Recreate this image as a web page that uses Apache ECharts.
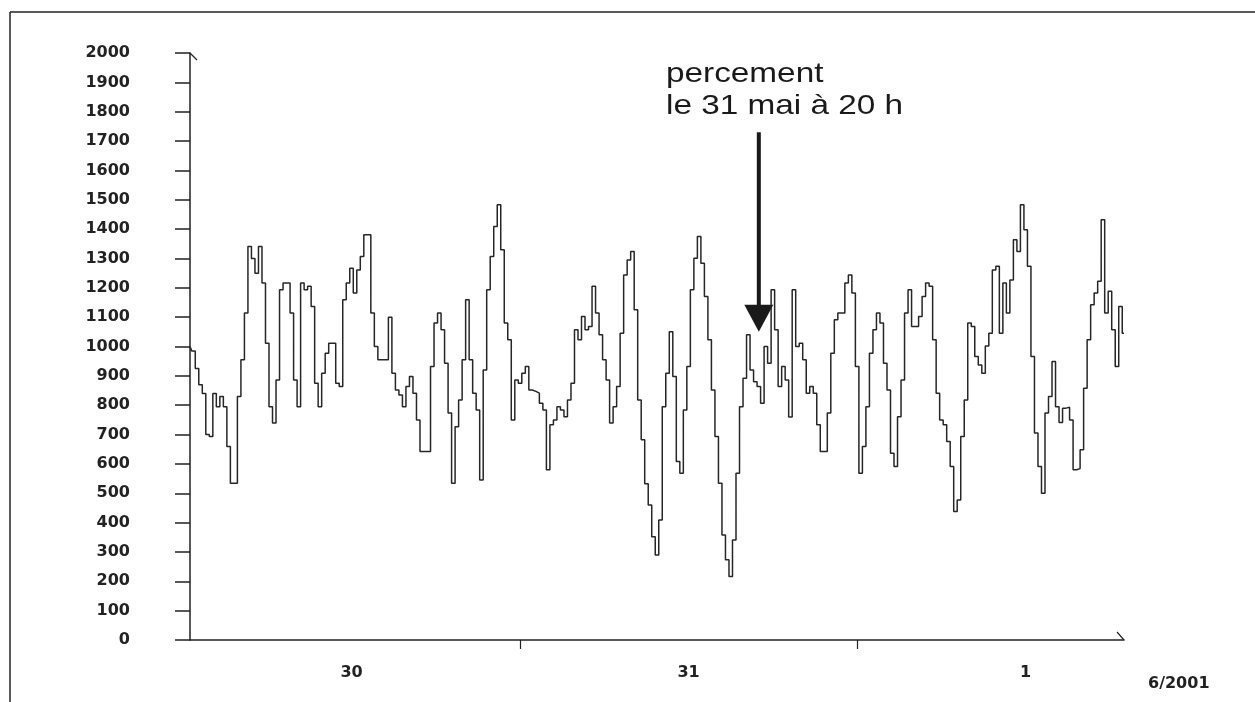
<!DOCTYPE html>
<html>
<head>
<meta charset="utf-8">
<script src="https://cdn.jsdelivr.net/npm/echarts@6/dist/echarts.min.js"></script>
<style>
html,body{margin:0;padding:0;background:#fff;}
#chart{width:1255px;height:702px;}
</style>
</head>
<body>
<div id="chart"></div>
<script>
// ---- data (15-minute readings, first reading 30 May 2001 00:30) ----
const startTime = Date.UTC(2001, 4, 30, 0, 30);
const stepMinutes = 15;
const debit = [
  1000, 985, 925, 870, 840, 700, 693, 840, 795, 830,
  795, 659, 534, 534, 830, 955, 1114, 1341, 1300, 1250,
  1341, 1216, 1011, 795, 739, 886, 1193, 1216, 1216, 1114,
  886, 795, 1216, 1193, 1205, 1136, 875, 795, 909, 977,
  1011, 1011, 875, 864, 1159, 1216, 1267, 1182, 1261, 1307,
  1381, 1381, 1114, 1000, 955, 955, 955, 1100, 909, 852,
  835, 795, 864, 898, 841, 750, 642, 642, 642, 932,
  1080, 1114, 1057, 943, 773, 534, 727, 818, 955, 1159,
  955, 841, 784, 545, 920, 1193, 1307, 1409, 1483, 1330,
  1080, 1023, 750, 886, 875, 909, 932, 852, 847, 841,
  807, 784, 580, 733, 750, 795, 784, 761, 818, 875,
  1057, 1023, 1102, 1057, 1068, 1205, 1114, 1040, 955, 886,
  739, 795, 864, 1045, 1244, 1295, 1324, 1125, 818, 682,
  532, 460, 352, 290, 409, 795, 909, 1050, 898, 608,
  568, 784, 932, 1193, 1301, 1375, 1284, 1170, 1023, 852,
  693, 534, 358, 273, 216, 341, 568, 795, 892, 1040,
  920, 880, 864, 807, 1000, 943, 1193, 1057, 864, 932,
  886, 760, 1193, 1000, 1011, 955, 841, 864, 841, 733,
  642, 642, 773, 977, 1091, 1114, 1114, 1216, 1244, 1182,
  932, 568, 659, 795, 977, 1057, 1114, 1080, 943, 852,
  636, 591, 761, 886, 1114, 1193, 1068, 1068, 1102, 1170,
  1216, 1205, 1023, 841, 750, 733, 676, 591, 438, 477,
  693, 818, 1080, 1068, 966, 937, 909, 1002, 1045, 1261,
  1273, 1045, 1216, 1114, 1227, 1364, 1324, 1483, 1398, 1273,
  966, 705, 591, 500, 773, 830, 949, 795, 741, 790,
  793, 750, 580, 584, 648, 858, 1023, 1142, 1182, 1222,
  1432, 1114, 1188, 1057, 932, 1136, 1045
];
const yTicks = { min: 0, max: 2000, interval: 100 };
const periodLabel = '6/2001';
const annotationText = 'percement\nle 31 mai à 20 h';
const annotationIndex = 162;          // reading the arrow points at
const annotationFrom = 1730;          // arrow tail value
const annotationTo = 1050;            // arrow tip value

// categories (timestamps)
function pad(n){ return (n < 10 ? '0' : '') + n; }
const categories = debit.map((_, i) => {
  const d = new Date(startTime + i * stepMinutes * 60000);
  return d.getUTCFullYear() + '-' + pad(d.getUTCMonth() + 1) + '-' + pad(d.getUTCDate()) +
    ' ' + pad(d.getUTCHours()) + ':' + pad(d.getUTCMinutes());
});
function hm(cat){ return cat.slice(11); }

const labelFont = 'DejaVu Sans';
const ink = '#222';

const chart = echarts.init(document.getElementById('chart'), null, { renderer: 'canvas' });
chart.setOption({
  animation: false,
  backgroundColor: '#fff',
  grid: { left: 190, right: 131, top: 53, bottom: 62, containLabel: false },
  xAxis: {
    type: 'category',
    data: categories,
    boundaryGap: false,
    axisLine: { lineStyle: { color: ink, width: 1.5 } },
    axisTick: {
      show: true, length: 9,
      lineStyle: { color: ink, width: 1.2 },
      interval: (idx, val) => hm(val) === '00:00'
    },
    axisLabel: {
      interval: (idx, val) => hm(val) === '12:00',
      formatter: (val) => String(parseInt(val.slice(8, 10), 10)),
      margin: 25,
      color: ink,
      fontFamily: labelFont,
      fontWeight: 'bold',
      fontSize: 16
    },
    splitLine: { show: false }
  },
  yAxis: {
    type: 'value',
    min: yTicks.min, max: yTicks.max, interval: yTicks.interval,
    axisLine: { show: true, lineStyle: { color: ink, width: 1.5 } },
    axisTick: { show: true, length: 15, lineStyle: { color: ink, width: 1.5 } },
    axisLabel: {
      margin: 60,
      formatter: (v) => String(v),
      color: ink,
      fontFamily: labelFont,
      fontWeight: 'bold',
      fontSize: 16
    },
    splitLine: { show: false }
  },
  series: [{
    type: 'line',
    data: debit,
    step: 'middle',
    showSymbol: false,
    lineStyle: { color: '#262626', width: 1.5 },
    z: 3
  }]
});

// annotation & decorations placed from axis coordinates
const tail = chart.convertToPixel({ gridIndex: 0 }, [annotationIndex, annotationFrom]);
const tip = chart.convertToPixel({ gridIndex: 0 }, [annotationIndex, annotationTo]);
const yTop = chart.convertToPixel({ gridIndex: 0 }, [0, yTicks.max]);
const xEnd = chart.convertToPixel({ gridIndex: 0 }, [debit.length - 1, yTicks.min]);
const headH = 27, headW = 29;

chart.setOption({
  graphic: [
    // frame
    { type: 'line', shape: { x1: 10, y1: 12, x2: 1255, y2: 12 }, style: { stroke: ink, lineWidth: 1.5 } },
    { type: 'line', shape: { x1: 10, y1: 12, x2: 10, y2: 702 }, style: { stroke: ink, lineWidth: 1.5 } },
    // axis end marks
    { type: 'line', shape: { x1: yTop[0], y1: yTop[1], x2: yTop[0] + 7, y2: yTop[1] + 7 }, style: { stroke: ink, lineWidth: 1.2 } },
    { type: 'line', shape: { x1: xEnd[0] - 7, y1: xEnd[1] - 8, x2: xEnd[0], y2: xEnd[1] }, style: { stroke: ink, lineWidth: 1.2 } },
    // arrow
    { type: 'line', shape: { x1: tail[0], y1: tail[1], x2: tip[0], y2: tip[1] - headH + 2 }, style: { stroke: '#1a1a1a', lineWidth: 4 } },
    { type: 'polygon', shape: { points: [[tip[0] - headW / 2, tip[1] - headH], [tip[0] + headW / 2, tip[1] - headH], [tip[0], tip[1]]] }, style: { fill: '#1a1a1a' } },
    // annotation text
    { type: 'text', x: 666, y: 58, scaleX: 1.19, style: {
        text: annotationText, x: 0, y: 0, fill: '#1a1a1a',
        font: '28px "Liberation Sans", Arial, sans-serif', lineHeight: 32, align: 'left', verticalAlign: 'top' } },
    // period label
    { type: 'text', x: 1148, y: 676, style: {
        text: periodLabel, x: 0, y: 0, fill: ink,
        font: 'bold 16px "DejaVu Sans", sans-serif', align: 'left', verticalAlign: 'top' } }
  ]
});
</script>
</body>
</html>
